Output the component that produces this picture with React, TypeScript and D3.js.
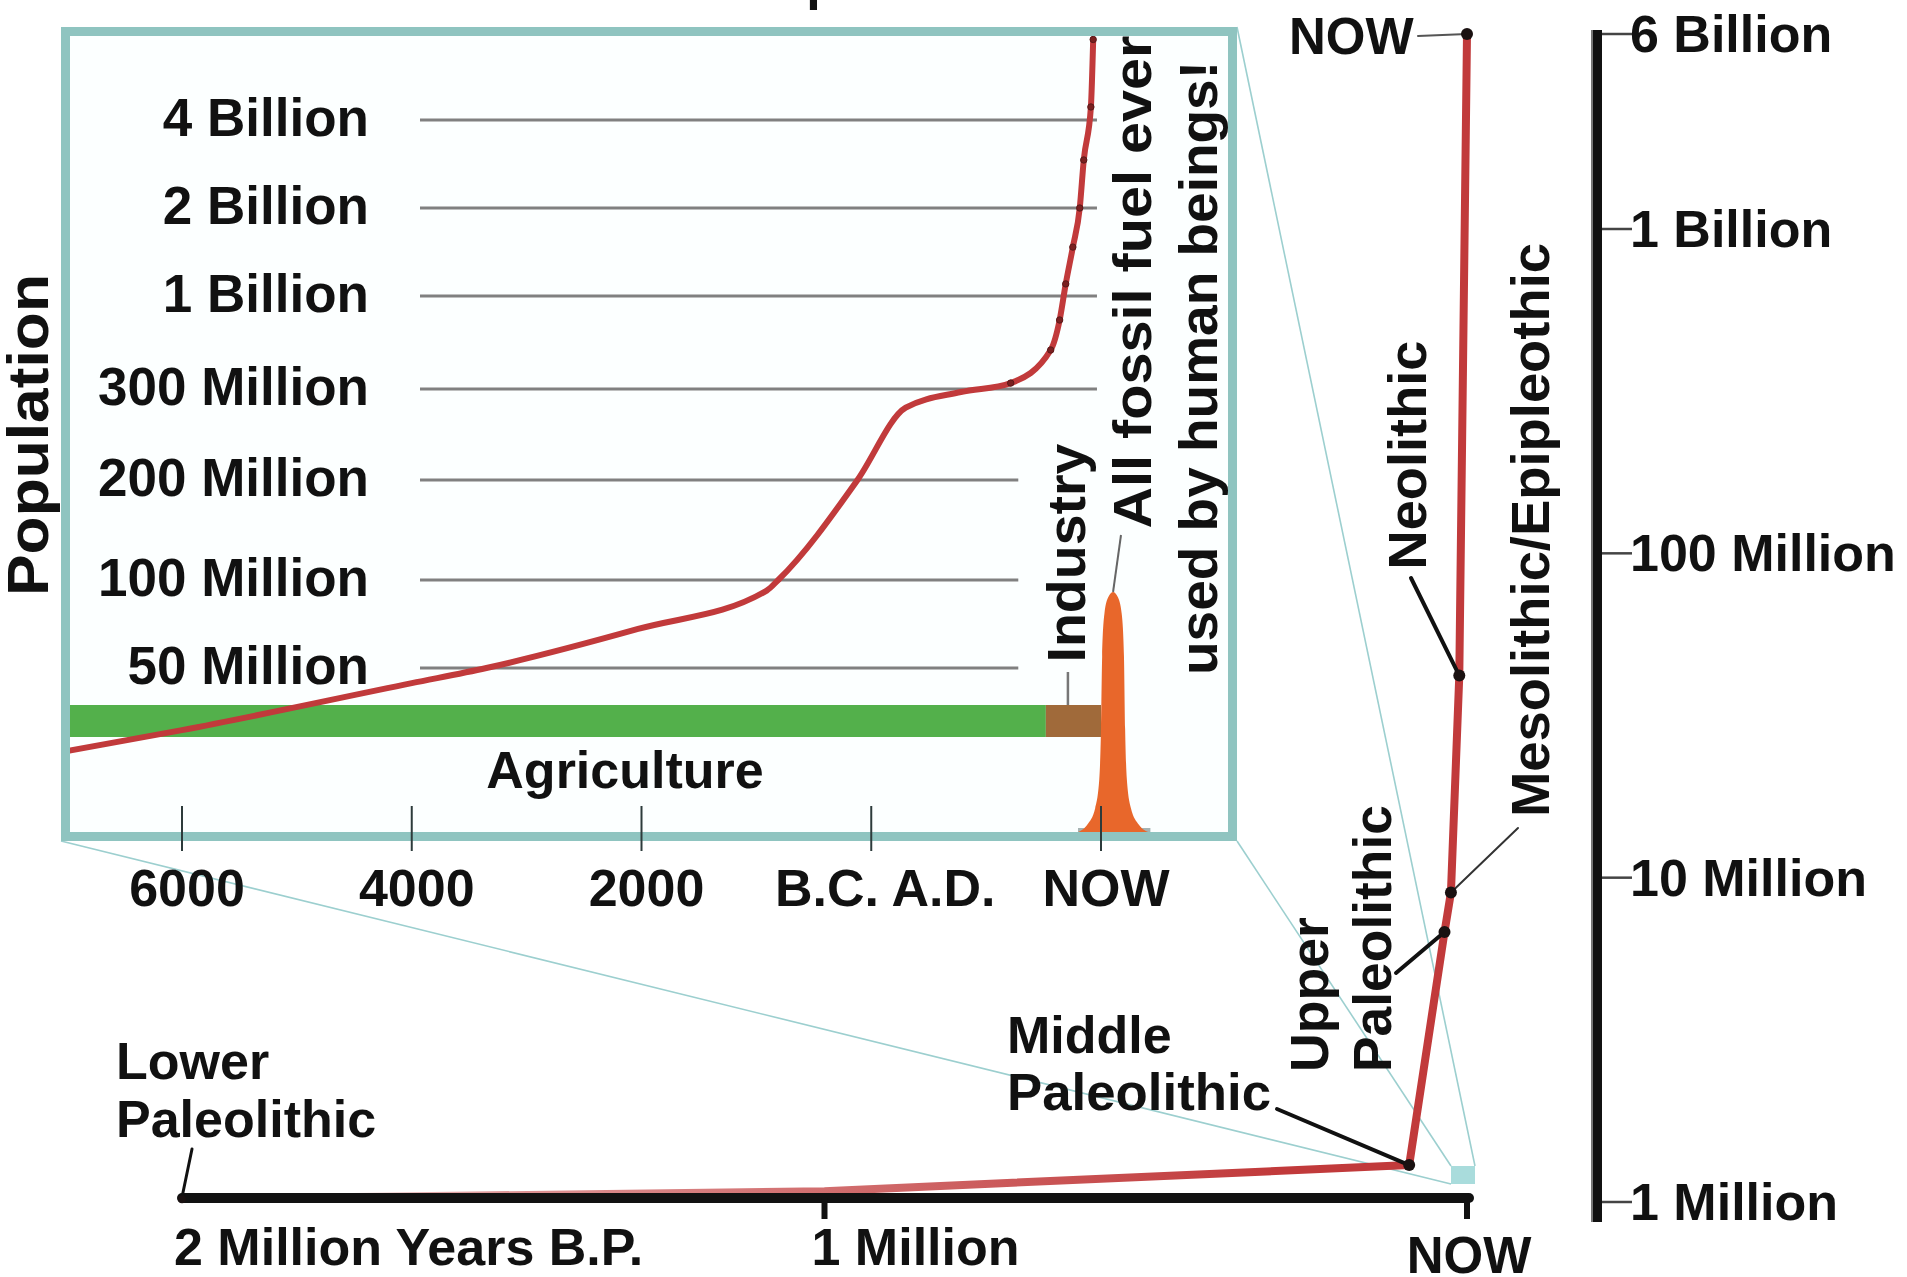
import React from "react";
import * as d3 from "d3";

const W = 1907;
const H = 1277;
const FONT = "'Liberation Sans', Arial, sans-serif";

// outer chart: 2 million years of human population
const eraLabels = ["Lower Paleolithic", "", "Middle Paleolithic", "Upper Paleolithic", "Mesolithic/Epipleothic", "Neolithic", "NOW"];
const eraYearsBP = [2000000, 1000000, 90000, 35000, 25000, 12000, 0];
const eraPopulation = [1.02e6, 1.08e6, 1.3e6, 6.8e6, 9e6, 42e6, 6e9];

const popTicks = [1e6, 1e7, 1e8, 1e9, 6e9];
const popTickLabels = ["1 Million", "10 Million", "100 Million", "1 Billion", "6 Billion"];
const yearTicksBP = [2000000, 1000000, 0];
const yearTickLabels = ["2 Million Years B.P.", "1 Million", "NOW"];

// inset: the last nine thousand years
const insetYears = [-7050, -6000, -4000, -3350, -2030, -910, -810, -120, 300, 780, 1214, 1562, 1640, 1693, 1755, 1815, 1850, 1912, 1932];
const insetPopulation = [5e6, 9.1e6, 33e6, 50e6, 68e6, 92e6, 100e6, 200e6, 276e6, 296e6, 324e6, 497e6, 733e6, 1.1e9, 1.47e9, 2e9, 2.92e9, 4.26e9, 5.9e9];

const gridValues = [50e6, 100e6, 200e6, 300e6, 1e9, 2e9, 4e9];
const gridLabels = ["50 Million", "100 Million", "200 Million", "300 Million", "1 Billion", "2 Billion", "4 Billion"];

const insetTickYears = [-6000, -4000, -2000, 0, 2000];
const insetTickLabels = ["6000", "4000", "2000", "B.C. A.D.", "NOW"];

const agricultureYears = [-7200, 1520];
const industryYears = [1520, 2000];

const fuelYears = [1800, 1880, 1950, 1985, 2000, 2010, 2030, 2065, 2105, 2145, 2180, 2200, 2210, 2225, 2260, 2330, 2410];
const fuelUse = [0, 3, 10, 22, 43, 73, 91, 98, 100, 98, 91, 73, 43, 22, 10, 3, 0];

function VText({ cx, cy, text, len, anchor = "middle", size = 54 }: any) {
  return (
    <text
      transform={`translate(${cx},${cy}) rotate(-90)`}
      textAnchor={anchor}
      dominantBaseline="central"
      fontSize={size}
      fontWeight="bold"
      textLength={len}
      lengthAdjust="spacingAndGlyphs"
    >
      {text}
    </text>
  );
}

export default function App() {
  // main scales
  const x = d3.scaleLinear().domain([2000000, 0]).range([182, 1467]);
  const y = d3.scaleLog().domain([1e6, 1e9, 6e9]).range([1202, 229, 34]);

  // inset scales
  const xi = d3.scaleLinear().domain([-6000, 2000]).range([182, 1101]);
  const yi = d3
    .scaleLog()
    .domain([5e6, 50e6, 100e6, 200e6, 300e6, 1e9, 2e9, 4e9, 6e9])
    .range([752, 668, 580, 480, 389, 296, 208, 120, 36]);
  const yf = d3.scaleLinear().domain([0, 100]).range([832, 592]);

  const idx = d3.range(eraYearsBP.length);
  const mainLine = d3
    .line<number>()
    .x((i) => x(eraYearsBP[i]))
    .y((i) => y(eraPopulation[i]));

  const insetIdx = d3.range(insetYears.length);
  const insetLine = d3
    .line<number>()
    .x((i) => xi(insetYears[i]))
    .y((i) => yi(insetPopulation[i]))
    .curve(d3.curveMonotoneX);

  const fuelArea = d3
    .area<number>()
    .x((i) => xi(fuelYears[i]))
    .y0(yf(0))
    .y1((i) => yf(fuelUse[i]))
    .curve(d3.curveMonotoneX);

  const box = { x0: 61, y0: 27, x1: 1237, y1: 841, sw: 9 };
  const axisY = 1198;
  const axisX = 1597;

  // small square marking the inset window on the main chart
  const zx0 = x(0) - 16;
  const zy0 = y(1e6) - 36;
  const zoom = { x0: zx0, y0: zy0, x1: zx0 + 24, y1: zy0 + 18 };

  const pt = (i: number): [number, number] => [x(eraYearsBP[i]), y(eraPopulation[i])];

  const red = "#c13a3b";

  return (
    <svg
      width={W}
      height={H}
      style={{ position: "absolute", left: 0, top: 0, background: "#fff" }}
      fontFamily={FONT}
      fill="#111"
    >
      <defs>
        <linearGradient id="fadeRed" gradientUnits="userSpaceOnUse" x1={x(2000000)} x2={x(300000)} y1={0} y2={0}>
          <stop offset="0" stopColor={red} stopOpacity={0} />
          <stop offset="0.3" stopColor={red} stopOpacity={0.55} />
          <stop offset="1" stopColor={red} stopOpacity={1} />
        </linearGradient>
        <clipPath id="insetClip">
          <rect x={box.x0 + box.sw} y={box.y0 + box.sw - 4} width={box.x1 - box.x0 - 2 * box.sw} height={box.y1 - box.y0 - box.sw * 2 + 4} />
        </clipPath>
      </defs>

      {/* title, mostly above the visible frame */}
      <text x={579} y={-1} fontSize={52} fontWeight="bold">World Population</text>

      {/* zoom callout lines */}
      <g stroke="#9ccfcf" strokeWidth={1.6}>
        <line x1={box.x0} y1={box.y1} x2={zoom.x0} y2={zoom.y1} />
        <line x1={box.x1} y1={box.y1} x2={zoom.x0} y2={zoom.y0} />
        <line x1={box.x1} y1={box.y0} x2={zoom.x1} y2={zoom.y0} />
      </g>
      <rect x={zoom.x0} y={zoom.y0} width={zoom.x1 - zoom.x0} height={zoom.y1 - zoom.y0} fill="#a9dcdc" />

      {/* inset box */}
      <rect
        x={box.x0 + box.sw / 2}
        y={box.y0 + box.sw / 2}
        width={box.x1 - box.x0 - box.sw}
        height={box.y1 - box.y0 - box.sw}
        fill="#fcffff"
      />

      <g clipPath="url(#insetClip)">
        {gridValues.map((v, i) => (
          <line
            key={i}
            x1={420}
            x2={v >= 300e6 ? xi(1965) : xi(1280)}
            y1={yi(v)}
            y2={yi(v)}
            stroke="#808080"
            strokeWidth={3}
          />
        ))}
        <rect x={xi(agricultureYears[0])} y={705} width={xi(agricultureYears[1]) - xi(agricultureYears[0])} height={32} fill="#53b04b" />
        <rect x={xi(industryYears[0])} y={705} width={xi(industryYears[1]) - xi(industryYears[0])} height={32} fill="#a06a3a" />
        <rect x={xi(1800)} y={828} width={xi(2430) - xi(1800)} height={6} fill="#a5b3b3" />
        <path d={fuelArea(d3.range(fuelYears.length)) || ""} fill="#e8672b" />
        <path d={insetLine(insetIdx) || ""} fill="none" stroke={red} strokeWidth={6} strokeLinecap="round" />
        {insetIdx
          .filter((i) => insetYears[i] >= 1200)
          .map((i) => (
            <circle key={i} cx={xi(insetYears[i])} cy={yi(insetPopulation[i])} r={3.2} fill="#7a2020" stroke="#5a1a1a" strokeWidth={1} />
          ))}
      </g>

      <rect
        x={box.x0 + box.sw / 2}
        y={box.y0 + box.sw / 2}
        width={box.x1 - box.x0 - box.sw}
        height={box.y1 - box.y0 - box.sw}
        fill="none"
        stroke="#8fc4c0"
        strokeWidth={box.sw}
      />

      {/* inset y labels */}
      {gridLabels.map((l, i) => (
        <text key={l} x={369} y={yi(gridValues[i]) - 3} textAnchor="end" dominantBaseline="central" fontSize={53} fontWeight="bold">
          {l}
        </text>
      ))}

      {/* inset x ticks */}
      {insetTickYears.map((t, i) => (
        <g key={t}>
          <line x1={xi(t)} x2={xi(t)} y1={806} y2={851} stroke="#2d3b3b" strokeWidth={2} />
          <text x={xi(t) + (i === 3 ? 14 : 5)} y={906} textAnchor="middle" fontSize={52} fontWeight="bold">
            {insetTickLabels[i]}
          </text>
        </g>
      ))}

      <text x={625} y={788} textAnchor="middle" fontSize={52} fontWeight="bold">Agriculture</text>

      {/* industry + fossil fuel notes */}
      <line x1={xi(1712)} x2={xi(1712)} y1={672} y2={705} stroke="#777" strokeWidth={2.5} />
      <VText cx={1066} cy={553} text="Industry" len={219} />
      <line x1={1121} y1={535} x2={xi(2105)} y2={yf(100)} stroke="#666" strokeWidth={2} />
      <VText cx={1132} cy={282} text="All fossil fuel ever" len={493} />
      <VText cx={1198} cy={368} text="used by human beings!" len={614} />

      <VText cx={27} cy={435} text="Population" len={322} size={58} />

      {/* main red curve */}
      <path d={mainLine(idx) || ""} fill="none" stroke="url(#fadeRed)" strokeWidth={8} strokeLinejoin="round" />

      {/* bottom axis */}
      <line x1={x(2000000)} x2={x(0) + 2} y1={axisY} y2={axisY} stroke="#111" strokeWidth={10} strokeLinecap="round" />
      {yearTicksBP.slice(1).map((t) => (
        <line key={t} x1={x(t)} x2={x(t)} y1={axisY} y2={axisY + 21} stroke="#111" strokeWidth={6} />
      ))}
      <text x={174} y={1265} fontSize={52} fontWeight="bold">{yearTickLabels[0]}</text>
      <text x={x(1000000) - 13} y={1265} fontSize={52} fontWeight="bold">{yearTickLabels[1]}</text>
      <text x={x(0) + 2} y={1273} textAnchor="middle" fontSize={51} fontWeight="bold">{yearTickLabels[2]}</text>

      {/* right axis */}
      <line x1={axisX} x2={axisX} y1={30} y2={1222} stroke="#111" strokeWidth={10} />
      <line x1={axisX - 5} x2={axisX - 5} y1={30} y2={1222} stroke="#777" strokeWidth={2} />
      {popTicks.map((t, i) => (
        <g key={t}>
          <line x1={axisX + 5} x2={1632} y1={y(t)} y2={y(t)} stroke="#444" strokeWidth={2.5} />
          <text x={1630} y={y(t)} dominantBaseline="central" fontSize={52} fontWeight="bold">
            {popTickLabels[i]}
          </text>
        </g>
      ))}

      {/* annotation connectors */}
      <g stroke="#111" strokeLinecap="round">
        <line x1={192} y1={1149} x2={pt(0)[0]} y2={pt(0)[1] - 2} strokeWidth={3} />
        <line x1={1277} y1={1109} x2={pt(2)[0]} y2={pt(2)[1]} strokeWidth={4} />
        <line x1={1396} y1={973} x2={pt(3)[0]} y2={pt(3)[1]} strokeWidth={4} />
        <line x1={1518} y1={828} x2={pt(4)[0]} y2={pt(4)[1]} strokeWidth={2} stroke="#333" />
        <line x1={1411} y1={578} x2={pt(5)[0]} y2={pt(5)[1]} strokeWidth={4} />
        <line x1={1418} y1={36} x2={pt(6)[0]} y2={pt(6)[1]} strokeWidth={2} stroke="#555" />
      </g>
      {idx
        .filter((i) => eraLabels[i] !== "")
        .map((i) => (
          <circle key={i} cx={pt(i)[0]} cy={pt(i)[1]} r={i === 0 ? 4 : 6} fill="#1a1111" />
        ))}

      {/* annotation texts */}
      <text x={116} y={1079} fontSize={52} fontWeight="bold">Lower</text>
      <text x={116} y={1137} fontSize={52} fontWeight="bold">Paleolithic</text>
      <text x={1007} y={1053} fontSize={52} fontWeight="bold">Middle</text>
      <text x={1007} y={1110} fontSize={52} fontWeight="bold" textLength={264} lengthAdjust="spacingAndGlyphs">Paleolithic</text>
      <VText cx={1309} cy={1072} text="Upper" len={155} anchor="start" />
      <VText cx={1372} cy={1072} text="Paleolithic" len={267} anchor="start" />
      <VText cx={1530} cy={530} text="Mesolithic/Epipleothic" len={574} />
      <VText cx={1407} cy={455} text="Neolithic" len={229} />
      <text x={1289} y={36} dominantBaseline="central" fontSize={51} fontWeight="bold">NOW</text>
    </svg>
  );
}
